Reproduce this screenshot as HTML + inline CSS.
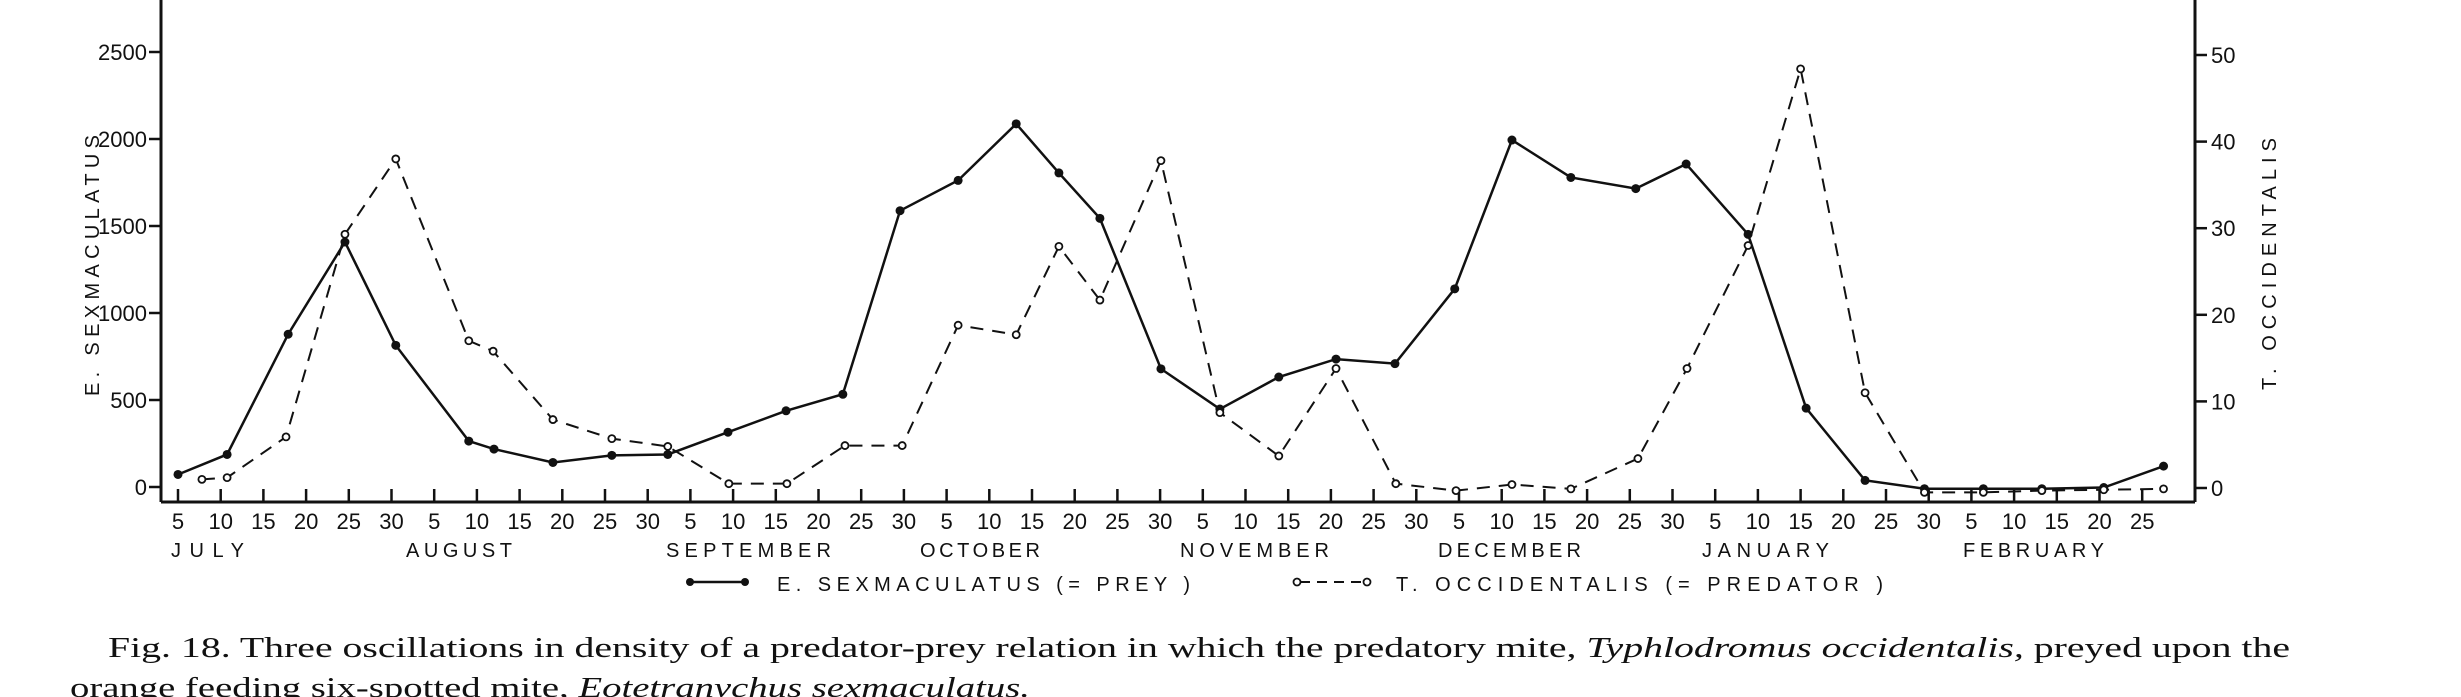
<!DOCTYPE html>
<html><head><meta charset="utf-8"><style>
html,body{margin:0;padding:0;background:#fff;}
svg{display:block;}
.tk{font-family:"Liberation Sans Narrow","Liberation Sans",sans-serif;font-size:22px;fill:#111;}
.mo{font-family:"Liberation Sans",sans-serif;font-size:20px;fill:#111;}
.cap{font-family:"Liberation Serif",serif;font-size:29px;fill:#111;}
</style></head><body>
<svg id="chart" width="2461" height="697" viewBox="0 0 2461 697" xmlns="http://www.w3.org/2000/svg"></svg>
<script>
// tick index positions (0 = July 5, one unit = 5-day tick)
const preyT = [0,1.15,2.58,3.91,5.1,6.81,7.4,8.78,10.16,11.47,12.88,14.24,15.57,16.91,18.27,19.63,20.63,21.59,23.02,24.4,25.78,27.12,28.5,29.9,31.24,32.62,34.14,35.32,36.77,38.13,39.51,40.9,42.28,43.65,45.1,46.5];
const preyValues = [72,187,878,1408,814,264,218,141,182,187,315,438,533,1588,1762,2087,1805,1544,679,448,632,735,709,1139,1994,1779,1715,1856,1452,453,38,-10,-10,-10,-3,120];
const predT = [0.56,1.15,2.53,3.91,5.1,6.81,7.38,8.78,10.16,11.47,12.9,14.26,15.62,16.96,18.27,19.63,20.63,21.59,23.02,24.4,25.78,27.12,28.52,29.93,31.24,32.62,34.19,35.34,36.77,38.0,39.51,40.9,42.28,43.65,45.1,46.5];
const predValues = [1.0,1.2,5.9,29.3,38.0,17.0,15.8,7.9,5.7,4.8,0.5,0.5,4.9,4.9,18.8,17.7,27.9,21.7,37.8,8.7,3.7,13.8,0.5,-0.3,0.4,-0.1,3.4,13.8,28.0,48.4,11.0,-0.5,-0.5,-0.3,-0.2,-0.1];
const leftTicks = [0,500,1000,1500,2000,2500];
const rightTicks = [0,10,20,30,40,50];
const dayLabels = ["5","10","15","20","25","30"];
const months = ["JULY","AUGUST","SEPTEMBER","OCTOBER","NOVEMBER","DECEMBER","JANUARY","FEBRUARY"];

const NS="http://www.w3.org/2000/svg";
const svg=document.getElementById('chart');
const X0=178, DX=42.7, AXL=161, AXR=2195, AXB=502;
const x=t=>X0+DX*t;
const yL=v=>487-v*(487-52)/2500;
const yR=v=>488-v*(488-55)/50;
function mk(tag,attrs,parent){const e=document.createElementNS(NS,tag);for(const k in attrs)e.setAttribute(k,attrs[k]);(parent||svg).appendChild(e);return e;}
function txt(s,attrs,parent){const e=mk('text',attrs,parent);e.textContent=s;return e;}

let a=mk('line',{x1:AXL,y1:0,x2:AXL,y2:AXB,stroke:'#111','stroke-width':3});


a=mk('line',{x1:AXR,y1:0,x2:AXR,y2:AXB,stroke:'#111','stroke-width':3});


a=mk('line',{x1:AXL,y1:AXB,x2:AXR,y2:AXB,stroke:'#111','stroke-width':3});



leftTicks.forEach(v=>{
  mk('line',{x1:AXL-12,y1:yL(v),x2:AXL,y2:yL(v),stroke:'#111','stroke-width':2.5});
  const t=txt(String(v),{x:AXL-14,y:yL(v)+8,'text-anchor':'end',class:'tk'});
  
  
});
rightTicks.forEach(v=>{
  mk('line',{x1:AXR,y1:yR(v),x2:AXR+12,y2:yR(v),stroke:'#111','stroke-width':2.5});
  const t=txt(String(v),{x:AXR+16,y:yR(v)+8,'text-anchor':'start',class:'tk'});
  
  
});
let idx=0;
months.forEach((m,mi)=>{
  const n = mi===7?5:6;
  for(let k=0;k<n;k++){
    const xx=x(idx);
    mk('line',{x1:xx,y1:AXB-13,x2:xx,y2:AXB,stroke:'#111','stroke-width':2.5});
    const t=txt(dayLabels[k],{x:xx,y:529,'text-anchor':'middle',class:'tk'});
    
    
    idx++;
  }
});
const monthX=[171,406,666,920,1180,1438,1702,1963];
const monthW=[73,106,165,120,149,143,127,141];
months.forEach((m,i)=>{
  const t=txt(m,{x:monthX[i],y:557,class:'mo',textLength:monthW[i],lengthAdjust:'spacing'});
  
  
});

let t=txt('E. SEXMACULATUS',{x:0,y:0,class:'mo',transform:'translate(99,396) rotate(-90)',textLength:261,lengthAdjust:'spacing'});


t=txt('T. OCCIDENTALIS',{x:0,y:0,class:'mo',transform:'translate(2276,390) rotate(-90)',textLength:252,lengthAdjust:'spacing'});



const pp=preyT.map((tt,i)=>x(tt)+','+yL(preyValues[i])).join(' ');
let l=mk('polyline',{points:pp,fill:'none',stroke:'#111','stroke-width':2.5});


preyT.forEach((tt,i)=>{
  const c=mk('circle',{cx:x(tt),cy:yL(preyValues[i]),r:4.5,fill:'#111'});
  
  
});
const dp=predT.map((tt,i)=>x(tt)+','+yR(predValues[i])).join(' ');
l=mk('polyline',{points:dp,fill:'none',stroke:'#111','stroke-width':2,'stroke-dasharray':'13 9'});


predT.forEach((tt,i)=>{
  const c=mk('circle',{cx:x(tt),cy:yR(predValues[i]),r:3.5,fill:'#fff',stroke:'#111','stroke-width':1.8});
  
  
});

const lg=mk('g',{});


mk('line',{x1:690,y1:582,x2:745,y2:582,stroke:'#111','stroke-width':2.5},lg);
mk('circle',{cx:690,cy:582,r:4,fill:'#111'},lg);
mk('circle',{cx:745,cy:582,r:4,fill:'#111'},lg);
t=txt("E. SEXMACULATUS (= PREY )",{x:777,y:591,class:'mo',textLength:413,lengthAdjust:'spacing'},lg);


mk('line',{x1:1300,y1:582,x2:1364,y2:582,stroke:'#111','stroke-width':2,'stroke-dasharray':'10 7'},lg);
mk('circle',{cx:1297,cy:582,r:3.5,fill:'#fff',stroke:'#111','stroke-width':1.8},lg);
mk('circle',{cx:1367,cy:582,r:3.5,fill:'#fff',stroke:'#111','stroke-width':1.8},lg);
t=txt("T. OCCIDENTALIS  (= PREDATOR )",{x:1396,y:591,class:'mo',textLength:487,lengthAdjust:'spacing'},lg);



t=txt('',{x:108,y:657,class:'cap',textLength:2182,lengthAdjust:'spacingAndGlyphs'});
t.innerHTML='Fig. 18. Three oscillations in density of a predator-prey relation in which the predatory mite, <tspan font-style="italic">Typhlodromus occidentalis,</tspan> preyed upon the';


t=txt('',{x:70,y:697,class:'cap',textLength:960,lengthAdjust:'spacingAndGlyphs'});
t.innerHTML='orange feeding six-spotted mite, <tspan font-style="italic">Eotetranychus sexmaculatus.</tspan>';


</script>
</body></html>
